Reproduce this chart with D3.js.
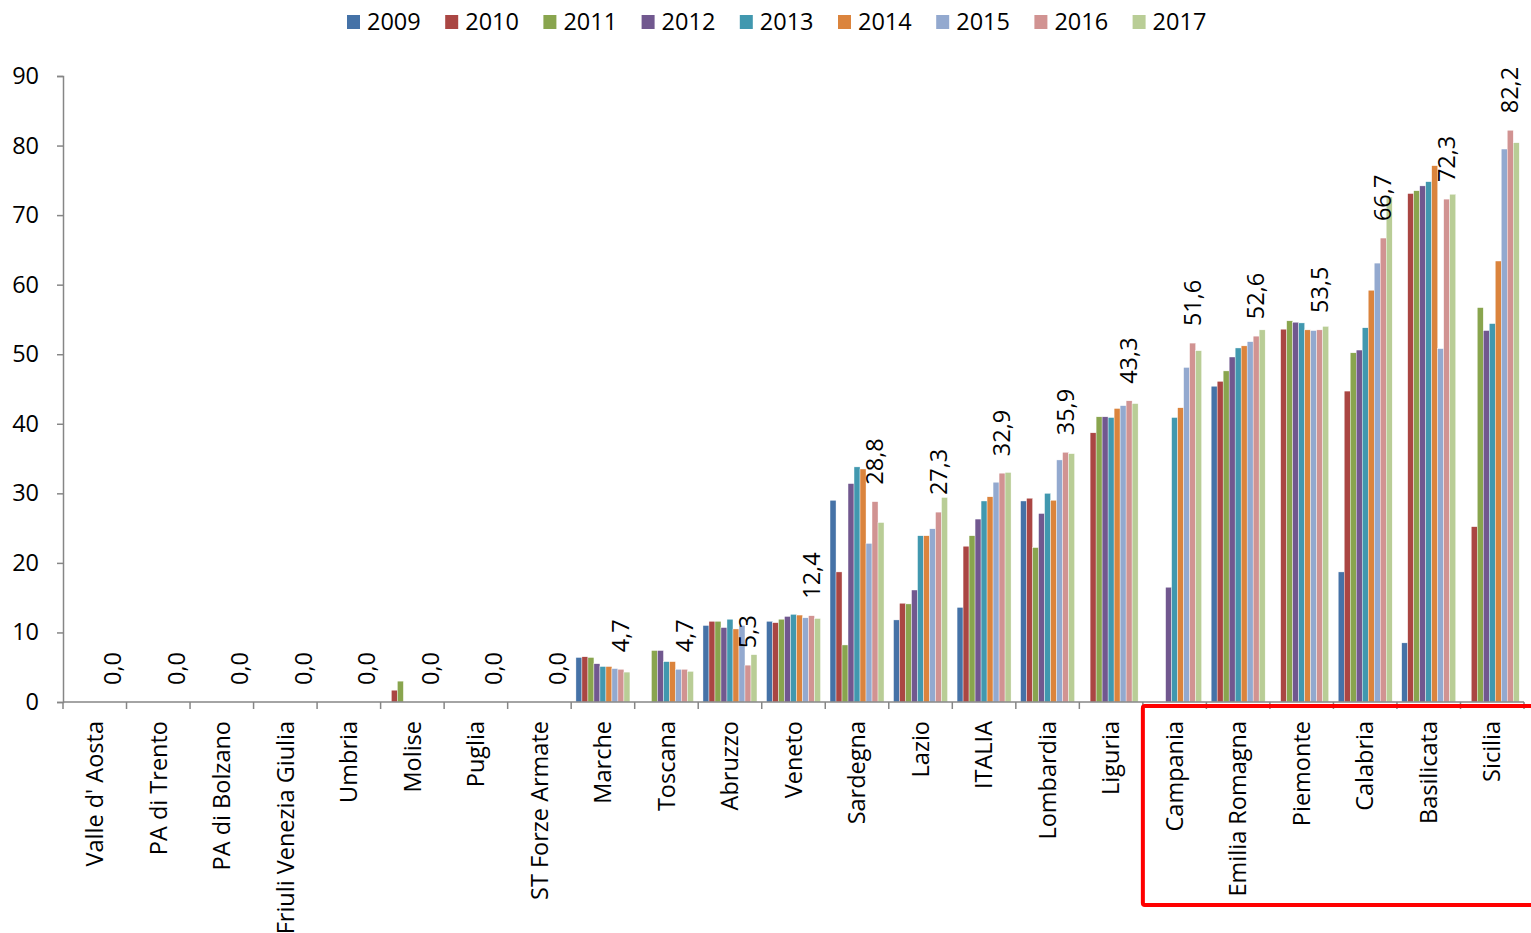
<!DOCTYPE html>
<html>
<head>
<meta charset="utf-8">
<script src="https://cdn.jsdelivr.net/npm/d3@7"></script>
<style>
    body { margin: 0; background: #fff; }
    text { font-family: "Open Sans", sans-serif; fill: #000; }
</style>
</head>
<body>
<div id="chart"></div>
<script>
(function () {
    var categories = ["Valle d' Aosta", "PA di Trento", "PA di Bolzano", "Friuli Venezia Giulia", "Umbria",
        "Molise", "Puglia", "ST Forze Armate", "Marche", "Toscana", "Abruzzo", "Veneto", "Sardegna",
        "Lazio", "ITALIA", "Lombardia", "Liguria", "Campania", "Emilia Romagna", "Piemonte",
        "Calabria", "Basilicata", "Sicilia"];

    var years = ["2009", "2010", "2011", "2012", "2013", "2014", "2015", "2016", "2017"];

    var colors = ["#4572A7", "#AA4643", "#89A54E", "#71588F", "#4198AF", "#DB843D", "#93A9CF", "#D19392", "#B9CD96"];

    // one row per category, one value per year
    var values = [
        [0, 0, 0, 0, 0, 0, 0, 0, 0],
        [0, 0, 0, 0, 0, 0, 0, 0, 0],
        [0, 0, 0, 0, 0, 0, 0, 0, 0],
        [0, 0, 0, 0, 0, 0, 0, 0, 0],
        [0, 0, 0, 0, 0, 0, 0, 0, 0],
        [0, 1.7, 3.0, 0, 0, 0, 0, 0, 0],
        [0, 0, 0, 0, 0, 0, 0, 0, 0],
        [0, 0, 0, 0, 0, 0, 0, 0, 0],
        [6.4, 6.5, 6.4, 5.5, 5.1, 5.1, 4.8, 4.7, 4.3],
        [0, 0, 7.4, 7.4, 5.8, 5.8, 4.7, 4.7, 4.4],
        [11.0, 11.6, 11.6, 10.7, 11.9, 10.5, 11.0, 5.3, 6.8],
        [11.6, 11.4, 11.9, 12.3, 12.6, 12.5, 12.1, 12.4, 12.0],
        [29.0, 18.7, 8.2, 31.4, 33.8, 33.5, 22.8, 28.8, 25.8],
        [11.8, 14.2, 14.1, 16.1, 23.9, 23.9, 24.9, 27.3, 29.4],
        [13.6, 22.4, 23.9, 26.3, 28.9, 29.5, 31.6, 32.9, 33.0],
        [28.9, 29.3, 22.2, 27.1, 30.0, 29.0, 34.8, 35.9, 35.7],
        [0, 38.7, 41.0, 41.0, 40.9, 42.2, 42.6, 43.3, 42.9],
        [0, 0, 0, 16.5, 40.9, 42.3, 48.1, 51.6, 50.5],
        [45.4, 46.1, 47.6, 49.6, 50.9, 51.2, 51.8, 52.6, 53.5],
        [0, 53.6, 54.8, 54.6, 54.5, 53.5, 53.4, 53.5, 54.0],
        [18.7, 44.7, 50.2, 50.6, 53.8, 59.2, 63.1, 66.7, 72.6],
        [8.5, 73.1, 73.5, 74.2, 74.8, 77.1, 50.8, 72.3, 73.0],
        [0, 25.2, 56.7, 53.4, 54.4, 63.4, 79.5, 82.2, 80.4]
    ];

    var labelYear = "2016";
    var yTicks = [0, 10, 20, 30, 40, 50, 60, 70, 80, 90];
    var highlighted = ["Campania", "Emilia Romagna", "Piemonte", "Calabria", "Basilicata", "Sicilia"];

    var width = 1531, height = 933;
    var left = 63, right = 1524, top = 76, bottom = 702;
    var axisColor = "#868686";
    var fs = "23.5px";

    var svg = d3.select("#chart")
        .append("svg")
        .attr("width", width)
        .attr("height", height);

    var x0 = d3.scaleBand().domain(categories).range([left, right]).padding(0);
    var bw = x0.bandwidth();
    var x1 = d3.scaleBand().domain(years).range([bw * 0.075, bw * 0.925]).padding(0);
    var y = d3.scaleLinear().domain([0, 90]).range([bottom, top]);

    // bars
    var groups = svg.append("g").selectAll("g")
        .data(categories)
        .join("g")
        .attr("transform", function (d) { return "translate(" + x0(d) + ",0)"; });

    groups.selectAll("rect")
        .data(function (d, i) {
            return years.map(function (yr, j) { return { year: yr, value: values[i][j], color: colors[j] }; })
                .filter(function (e) { return e.value > 0; });
        })
        .join("rect")
        .attr("x", function (d) { return x1(d.year); })
        .attr("width", x1.bandwidth())
        .attr("y", function (d) { return y(d.value); })
        .attr("height", function (d) { return y(0) - y(d.value); })
        .attr("fill", function (d) { return d.color; })
        .attr("stroke", "#fff")
        .attr("stroke-width", 0.4);

    // y axis
    var yAxis = d3.axisLeft(y).tickValues(yTicks).tickSize(6).tickPadding(18);
    var gy = svg.append("g").attr("transform", "translate(" + left + ",0)").call(yAxis);
    gy.select(".domain").attr("stroke", axisColor).attr("stroke-width", 1.5);
    gy.selectAll(".tick line").attr("stroke", axisColor).attr("stroke-width", 1.5);
    gy.selectAll(".tick text").style("font-size", fs).style("font-family", "'Open Sans', sans-serif");

    // x axis
    var gx = svg.append("g").attr("transform", "translate(0," + bottom + ")");
    gx.append("line")
        .attr("x1", left).attr("x2", right)
        .attr("stroke", axisColor).attr("stroke-width", 1.5);
    gx.selectAll("line.tk")
        .data(categories.concat(["end"]))
        .join("line")
        .attr("class", "tk")
        .attr("x1", function (d, i) { return left + i * bw; })
        .attr("x2", function (d, i) { return left + i * bw; })
        .attr("y1", 0).attr("y2", 7)
        .attr("stroke", axisColor).attr("stroke-width", 1.5);
    gx.selectAll("text")
        .data(categories)
        .join("text")
        .attr("transform", function (d) { return "translate(" + (x0(d) + bw / 2) + ",19) rotate(-90)"; })
        .attr("text-anchor", "end")
        .attr("dy", "0.35em")
        .style("font-size", fs)
        .text(function (d) { return d; });

    // data labels (2016 values)
    var li = years.indexOf(labelYear);
    svg.append("g").selectAll("text")
        .data(categories)
        .join("text")
        .attr("transform", function (d, i) {
            var cx = x0(d) + x1(labelYear) + x1.bandwidth() / 2;
            return "translate(" + cx + "," + (y(values[i][li]) - 17) + ") rotate(-90)";
        })
        .attr("text-anchor", "start")
        .attr("dy", "0.35em")
        .style("font-size", fs)
        .text(function (d, i) { return values[i][li].toFixed(1).replace(".", ","); });

    // highlight box
    var hx = x0(highlighted[0]);
    svg.append("rect")
        .attr("x", hx)
        .attr("y", 706)
        .attr("width", width - hx + 10)
        .attr("height", 199)
        .attr("rx", 2)
        .attr("fill", "none")
        .attr("stroke", "#ff0000")
        .attr("stroke-width", 4);

    // legend
    var legend = svg.append("g").attr("transform", "translate(347,0)");
    var items = legend.selectAll("g")
        .data(years)
        .join("g")
        .attr("transform", function (d, i) { return "translate(" + (i * 98.2) + ",0)"; });
    items.append("rect")
        .attr("x", 0).attr("y", 15)
        .attr("width", 13).attr("height", 14)
        .attr("fill", function (d, i) { return colors[i]; });
    items.append("text")
        .attr("x", 20).attr("y", 30)
        .style("font-size", fs)
        .text(function (d) { return d; });
}())
</script>
</body>
</html>
